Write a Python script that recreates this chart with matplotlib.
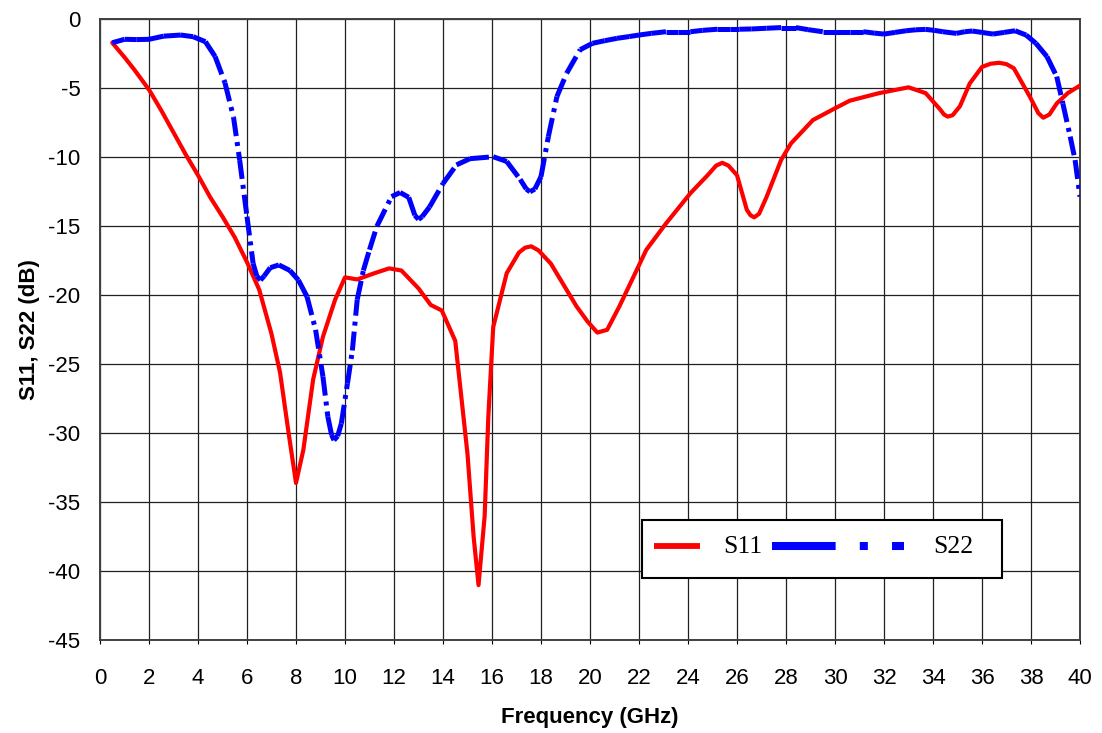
import numpy as np
import matplotlib
matplotlib.use("Agg")
import matplotlib.pyplot as plt
from matplotlib.collections import LineCollection
from matplotlib.lines import Line2D
from matplotlib.patches import Rectangle

plt.rcParams['axes.unicode_minus'] = False

# S11 (red, solid)
f11 = [0.5, 1.0, 1.4, 2.0, 2.5, 3.0, 3.5, 4.0, 4.5, 5.0, 5.5, 6.0, 6.5, 7.0,
       7.35, 7.7, 8.0, 8.3, 8.7, 9.1, 9.6, 10.0, 10.5, 11.2, 11.8, 12.3, 13.0,
       13.5, 13.95, 14.5, 15.0, 15.25, 15.45, 15.7, 15.85, 16.05, 16.6, 17.1,
       17.35, 17.6, 17.9, 18.4, 19.45, 19.9, 20.3, 20.7, 21.2, 22.3, 23.1,
       24.1, 24.8, 25.15, 25.4, 25.65, 26.0, 26.4, 26.55, 26.7, 26.9, 27.2,
       27.8, 28.2, 29.1, 30.0, 30.6, 31.8, 33.0, 33.7, 34.3, 34.45, 34.6, 34.8,
       35.1, 35.5, 36.0, 36.35, 36.7, 37.0, 37.3, 37.95, 38.3, 38.5, 38.75,
       39.05, 39.5, 40.0]
s11 = [-1.7, -2.75, -3.65, -5.1, -6.6, -8.2, -9.8, -11.3, -12.9, -14.3, -15.8,
       -17.6, -19.6, -22.8, -25.6, -30.0, -33.6, -31.2, -26.1, -23.0, -20.3,
       -18.7, -18.85, -18.4, -18.05, -18.2, -19.5, -20.7, -21.1, -23.3, -31.5,
       -37.5, -41.0, -36.0, -28.8, -22.3, -18.4, -16.9, -16.55, -16.45, -16.75,
       -17.7, -20.8, -21.9, -22.7, -22.5, -20.8, -16.7, -14.8, -12.6, -11.3,
       -10.6, -10.4, -10.6, -11.3, -13.8, -14.2, -14.35, -14.1, -12.9, -10.2,
       -9.0, -7.3, -6.45, -5.9, -5.35, -4.93, -5.35, -6.55, -6.9, -7.05, -6.95,
       -6.3, -4.65, -3.45, -3.22, -3.15, -3.25, -3.55, -5.6, -6.8, -7.13, -6.9,
       -6.1, -5.35, -4.8]

# S22 (blue, dash-dot)
f22 = [0.5, 1.0, 1.5, 2.0, 2.6, 3.3, 3.8, 4.3, 4.7, 5.1, 5.45, 5.7, 6.0, 6.25,
       6.4, 6.55, 6.7, 6.95, 7.3, 7.75, 8.1, 8.45, 8.8, 9.1, 9.3, 9.45, 9.55,
       9.7, 9.85, 10.1, 10.3, 10.5, 10.75, 11.0, 11.3, 11.9, 12.25, 12.6,
       12.85, 13.0, 13.15, 13.45, 14.0, 14.55, 15.1, 16.05, 16.6, 17.15, 17.4,
       17.55, 17.75, 18.0, 18.3, 18.65, 19.05, 19.6, 20.1, 20.6, 21.1, 21.6,
       22.0, 22.5, 23.1, 23.6, 24.1, 24.6, 25.2, 25.7, 26.1, 26.6, 27.2, 27.8,
       28.4, 28.9, 29.5, 30.0, 30.6, 31.15, 31.6, 32.0, 32.45, 32.9, 33.3,
       33.7, 34.05, 34.4, 34.95, 35.3, 35.6, 36.0, 36.45, 36.9, 37.35, 37.8,
       38.2, 38.65, 39.05, 39.3, 39.6, 39.8, 40.0]
s22 = [-1.7, -1.45, -1.47, -1.45, -1.22, -1.14, -1.26, -1.62, -2.7, -4.6,
       -7.1, -10.2, -14.3, -17.7, -18.6, -18.9, -18.6, -18.0, -17.8, -18.2,
       -18.9, -20.1, -22.5, -25.9, -28.8, -30.1, -30.5, -30.2, -29.3, -26.4,
       -24.0, -20.3, -18.2, -16.7, -15.0, -12.85, -12.55, -12.9, -14.2, -14.5,
       -14.3, -13.6, -11.9, -10.55, -10.1, -9.96, -10.3, -11.6, -12.3, -12.5,
       -12.3, -11.4, -8.5, -5.6, -3.9, -2.2, -1.74, -1.55, -1.38, -1.25, -1.14,
       -1.02, -0.9, -0.9, -0.9, -0.8, -0.72, -0.72, -0.72, -0.7, -0.65, -0.6,
       -0.6, -0.75, -0.9, -0.9, -0.9, -0.9, -1.0, -1.07, -0.95, -0.83, -0.76,
       -0.73, -0.8, -0.9, -1.02, -0.9, -0.85, -0.95, -1.07, -0.95, -0.83,
       -1.14, -1.74, -2.7, -4.15, -6.1, -8.5, -10.2, -12.85]

W, H = 1102, 733
fig = plt.figure(figsize=(W / 100, H / 100), dpi=100)
ax = fig.add_axes([100 / W, 1 - 640.3 / H, 980 / W, 621 / H])

ax.set_xlim(0, 40)
ax.set_ylim(-45, 0)
ax.set_xticks(np.arange(0, 41, 2))
ax.set_yticks(np.arange(-45, 1, 5))
ax.grid(True, color='#202020', linewidth=0.9)
ax.set_axisbelow(True)
for s in ax.spines.values():
    s.set_color('#404040')
    s.set_linewidth(1.4)

ax.tick_params(axis='x', direction='out', length=3, pad=17, labelsize=16)
ax.tick_params(axis='y', length=0, pad=14, labelsize=16)
for lab in ax.get_xticklabels() + ax.get_yticklabels():
    lab.set_family('Liberation Sans')

ax.set_xlabel('Frequency (GHz)', fontsize=16, fontweight='bold',
              family='Liberation Sans', labelpad=13)
ax.set_ylabel('S11, S22 (dB)', fontsize=16, fontweight='bold',
              family='Liberation Sans', labelpad=6)

ax.plot(f11, s11, color='#ff0000', linewidth=3.0, solid_joinstyle='round',
        solid_capstyle='round', zorder=3)

# dash pattern restarts on every segment, so flat stretches read as solid
pts = np.column_stack([f22, s22])
segs = [pts[i:i + 2] for i in range(len(pts) - 1)]
lc = LineCollection(segs, colors='#0000ff', linewidths=3.6,
                    linestyles=[(0, (3.8, 1.2, 0.8, 1.2))], capstyle='butt',
                    zorder=4)
ax.add_collection(lc)

# legend box drawn by hand (Excel style)
def fx(x):
    return x / W

def fy(y):
    return 1 - y / H

fig.add_artist(Rectangle((fx(642), fy(578)), fx(1002) - fx(642),
                         fy(520) - fy(578), facecolor='white',
                         edgecolor='black', linewidth=1.5, zorder=5))
fig.add_artist(Line2D([fx(654), fx(700)], [fy(546), fy(546)], color='#ff0000',
                      linewidth=4.2, solid_capstyle='butt', zorder=6))
fig.text(fx(723), fy(547), 'S11', fontsize=18.5, family='Liberation Serif',
         va='center', ha='left', zorder=6)
fig.add_artist(Line2D([fx(772), fx(904)], [fy(546), fy(546)], color='#0000ff',
                      linewidth=5.8, linestyle=(0, (7.9, 3.0, 1.0, 3.0)),
                      dash_capstyle='butt', zorder=6))
fig.text(fx(933), fy(547), 'S22', fontsize=18.5, family='Liberation Serif',
         va='center', ha='left', zorder=6)

fig.savefig('out.png', dpi=100)
